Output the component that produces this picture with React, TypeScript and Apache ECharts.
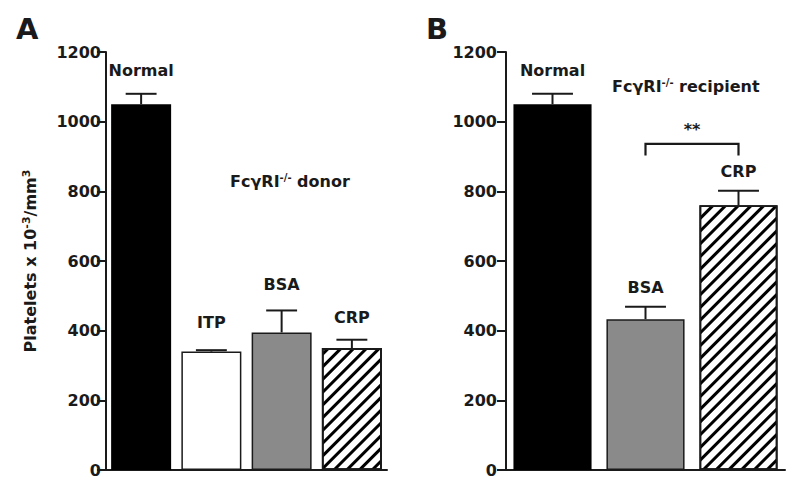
import React, { useEffect, useRef } from "react";
import * as echarts from "echarts";

const catsA = ["Normal", "ITP", "BSA", "CRP"];
const meanA = [1050, 340, 395, 350];
const semA = [30, 4, 63, 24];

const catsB = ["Normal", "BSA", "CRP"];
const meanB = [1050, 433, 760];
const semB = [30, 36, 42];

const yTicks = [0, 200, 400, 600, 800, 1000, 1200];
const yTitle = "Platelets x 10{sup|-3}/mm{sup|3}";

// significance bracket in panel B: between categories, at values
const bracketCats = [1, 2];
const bracketTop = 936;
const bracketFoot = 903;
const bracketLabel = "**";

const FONT = "'DejaVu Sans', 'Liberation Sans', Arial, sans-serif";
const INK = "#1a1a1a";

const fillA = ["#000000", "#ffffff", "#8a8a8a", "hatch"];
const fillB = ["#000000", "#8a8a8a", "hatch"];
const labelGapA = [26, 21, 40, 23];
const labelGapB = [26, 24, 26];

const hatchDecal = {
  symbol: "rect",
  symbolSize: 1,
  color: "#000000",
  backgroundColor: "#ffffff",
  dashArrayX: [1, 0],
  dashArrayY: [3, 5.5],
  rotation: -Math.PI / 4,
};

function barItems(vals: number[], fills: string[], gaps: number[]) {
  return vals.map((v, i) => {
    const f = fills[i];
    const style: any =
      f === "hatch"
        ? { color: "#ffffff", borderColor: INK, borderWidth: 1.8, decal: hatchDecal }
        : { color: f, borderColor: INK, borderWidth: f === "#000000" ? 0 : 1.5 };
    return { value: v, itemStyle: style, label: { distance: gaps[i] } };
  });
}

function errorRender(params: any, api: any) {
  const x = api.value(0);
  const m = api.value(1);
  const e = api.value(2);
  const base = api.coord([x, m]);
  const top = api.coord([x, m + e]);
  const half = api.size([1, 0])[0] * 0.22;
  const st = { stroke: INK, lineWidth: 2 };
  return {
    type: "group",
    children: [
      { type: "line", shape: { x1: base[0], y1: base[1], x2: top[0], y2: top[1] }, style: st },
      { type: "line", shape: { x1: top[0] - half, y1: top[1], x2: top[0] + half, y2: top[1] }, style: st },
    ],
  };
}

function bracketRender(params: any, api: any) {
  const a = api.value(0);
  const b = api.value(1);
  const t = api.value(2);
  const f = api.value(3);
  const p1 = api.coord([a, f]);
  const p2 = api.coord([a, t]);
  const p3 = api.coord([b, t]);
  const p4 = api.coord([b, f]);
  return {
    type: "group",
    children: [
      {
        type: "polyline",
        shape: { points: [p1, p2, p3, p4] },
        style: { stroke: INK, lineWidth: 2.2, fill: "none" },
      },
      {
        type: "text",
        x: (p2[0] + p3[0]) / 2,
        y: p2[1] - 6,
        style: {
          text: bracketLabel,
          fill: INK,
          font: `bold 16px ${FONT}`,
          align: "center",
          verticalAlign: "bottom",
        },
      },
    ],
  };
}

const labelStyle = {
  show: true,
  position: "top",
  formatter: (p: any) => p.name,
  color: INK,
  fontFamily: FONT,
  fontWeight: "bold",
  fontSize: 16,
};

function yAxisCfg(gridIndex: number, withName: boolean, margin: number) {
  return {
    type: "value",
    gridIndex,
    min: 0,
    max: yTicks[yTicks.length - 1],
    interval: yTicks[1] - yTicks[0],
    axisLine: { show: true, lineStyle: { color: INK, width: 2 } },
    axisTick: { show: true, length: 9, lineStyle: { color: INK, width: 2 } },
    splitLine: { show: false },
    axisLabel: {
      color: INK,
      fontFamily: FONT,
      fontWeight: "bold",
      fontSize: 16,
      margin,
      formatter: (v: number) => String(v),
    },
    name: withName ? yTitle : "",
    nameLocation: "middle",
    nameGap: 66,
    nameTextStyle: {
      color: INK,
      fontFamily: FONT,
      fontWeight: "bold",
      fontSize: 16,
      rich: {
        sup: {
          fontFamily: FONT,
          fontWeight: "bold",
          fontSize: 11,
          color: INK,
          verticalAlign: "top",
          padding: [0, 0, 8, 0],
        },
      },
    },
  };
}

function xAxisCfg(gridIndex: number, cats: string[]) {
  return {
    type: "category",
    gridIndex,
    data: cats,
    axisLine: { show: true, lineStyle: { color: INK, width: 2 } },
    axisTick: { show: false },
    axisLabel: { show: false },
    splitLine: { show: false },
  };
}

const supRich = {
  sup: {
    fontFamily: FONT,
    fontWeight: "bold",
    fontSize: 10,
    fill: INK,
    color: INK,
    verticalAlign: "top",
    padding: [0, 0, 8, 0],
  },
  n: { fontFamily: FONT, fontWeight: "bold", fontSize: 16, color: INK, fill: INK },
};

export default function App() {
  const ref = useRef<HTMLDivElement>(null);
  useEffect(() => {
    if (!ref.current) return;
    const chart = echarts.init(ref.current, null, { renderer: "svg" });
    chart.setOption({
      animation: false,
      backgroundColor: "#ffffff",
      grid: [
        { left: 106, top: 52, width: 281, height: 418 },
        { left: 506, top: 52, width: 279, height: 418 },
      ],
      xAxis: [xAxisCfg(0, catsA), xAxisCfg(1, catsB)],
      yAxis: [yAxisCfg(0, true, 5), yAxisCfg(1, false, 9)],
      series: [
        {
          type: "bar",
          xAxisIndex: 0,
          yAxisIndex: 0,
          barCategoryGap: "14.6%",
          data: barItems(meanA, fillA, labelGapA),
          label: labelStyle,
        },
        {
          type: "bar",
          xAxisIndex: 1,
          yAxisIndex: 1,
          barCategoryGap: "16%",
          data: barItems(meanB, fillB, labelGapB),
          label: labelStyle,
        },
        {
          type: "custom",
          xAxisIndex: 0,
          yAxisIndex: 0,
          renderItem: errorRender,
          data: catsA.map((c, i) => [i, meanA[i], semA[i]]),
          z: 5,
        },
        {
          type: "custom",
          xAxisIndex: 1,
          yAxisIndex: 1,
          renderItem: errorRender,
          data: catsB.map((c, i) => [i, meanB[i], semB[i]]),
          z: 5,
        },
        {
          type: "custom",
          xAxisIndex: 1,
          yAxisIndex: 1,
          renderItem: bracketRender,
          data: [[bracketCats[0], bracketCats[1], bracketTop, bracketFoot]],
          z: 5,
        },
      ],
      graphic: [
        {
          type: "text",
          left: 16,
          top: 14,
          style: { text: "A", font: `bold 29px ${FONT}`, fill: INK },
        },
        {
          type: "text",
          left: 426,
          top: 14,
          style: { text: "B", font: `bold 29px ${FONT}`, fill: INK },
        },
        {
          type: "text",
          left: 230,
          top: 172,
          style: {
            text: "{n|FcγRI}{sup|-/-}{n| donor}",
            rich: supRich,
            fill: INK,
          },
        },
        {
          type: "text",
          left: 612,
          top: 77,
          style: {
            text: "{n|FcγRI}{sup|-/-}{n| recipient}",
            rich: supRich,
            fill: INK,
          },
        },
      ],
    });
    return () => chart.dispose();
  }, []);
  return (
    <div
      ref={ref}
      style={{ position: "absolute", left: 0, top: 0, width: 800, height: 496 }}
    />
  );
}
